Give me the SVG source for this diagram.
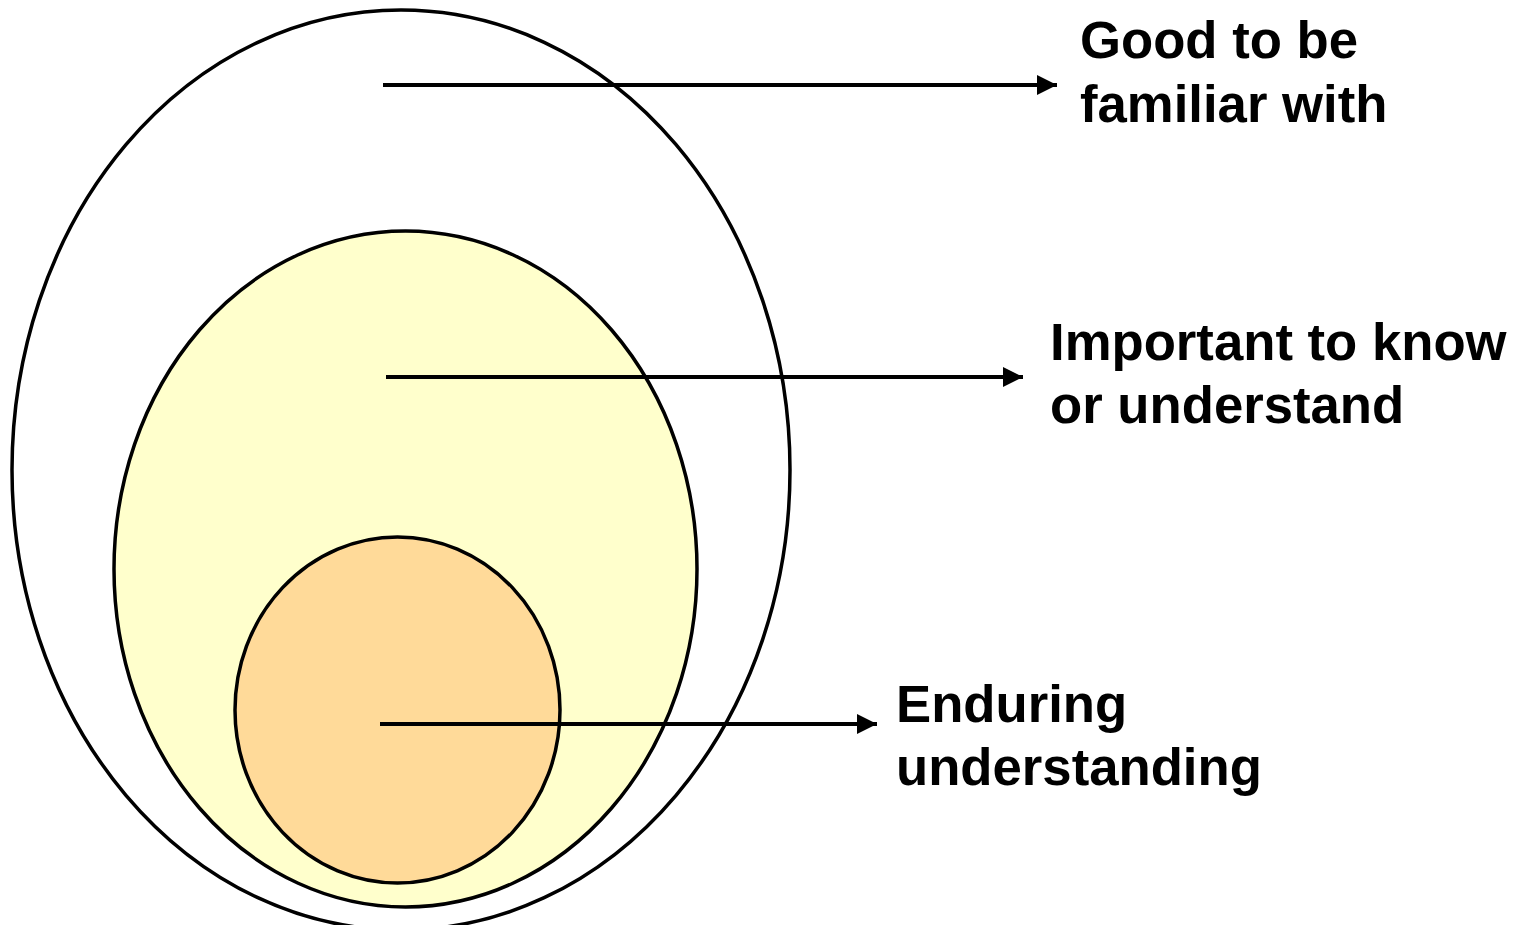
<svg xmlns="http://www.w3.org/2000/svg" width="1518" height="925" viewBox="0 0 1518 925">
<style>
.e{stroke:#000;stroke-width:3.5}
.t{font-family:"Liberation Sans",Arial,sans-serif;font-weight:bold;font-size:52.7px;fill:#000}
.c{stroke:#000;stroke-width:4;fill:none}
</style>
<defs>
<marker id="ah" markerUnits="userSpaceOnUse" markerWidth="22" markerHeight="22" refX="21" refY="11" orient="auto" viewBox="0 0 22 22" overflow="visible">
<path d="M1,1 L21,11 L1,21 Z" fill="#000"/>
</marker>
</defs>
<rect width="1518" height="925" fill="#fff"/>
<g id="outer"><ellipse class="e" cx="401" cy="470" rx="389" ry="460" fill="#fff"/></g>
<g id="middle"><ellipse class="e" cx="405.5" cy="569" rx="291.5" ry="338" fill="#FFFFCC"/></g>
<g id="inner"><ellipse class="e" cx="397.5" cy="710" rx="162.5" ry="173" fill="#FFDA99"/></g>
<g id="connectors">
<line class="c" x1="383" y1="85" x2="1057" y2="85" marker-end="url(#ah)"/>
<line class="c" x1="386" y1="377" x2="1023" y2="377" marker-end="url(#ah)"/>
<line class="c" x1="380" y1="724" x2="877" y2="724" marker-end="url(#ah)"/>
</g>
<g id="label1"><text class="t" x="1080" y="58">Good to be</text><text class="t" x="1080" y="122">familiar with</text></g>
<g id="label2"><text class="t" x="1050" y="360">Important to know</text><text class="t" x="1050" y="423">or understand</text></g>
<g id="label3"><text class="t" x="896" y="722">Enduring</text><text class="t" x="896" y="785">understanding</text></g>
</svg>
